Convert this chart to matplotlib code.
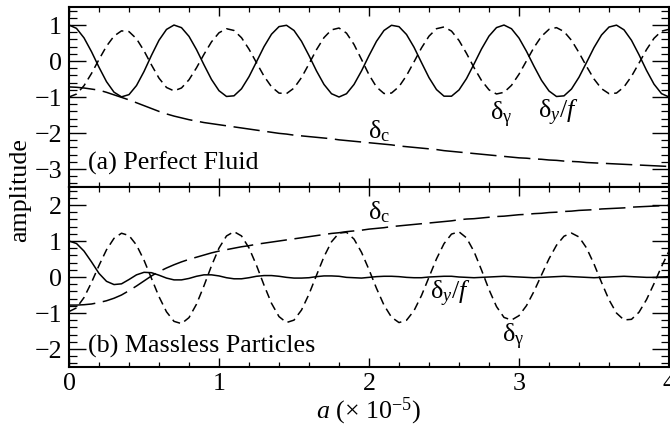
import matplotlib
matplotlib.use('Agg')
import matplotlib.pyplot as plt
from matplotlib.ticker import MultipleLocator

plt.rcParams['font.family'] = ['Liberation Serif', 'DejaVu Serif']
plt.rcParams['mathtext.fontset'] = 'custom'
plt.rcParams['mathtext.rm'] = 'Liberation Serif'
plt.rcParams['mathtext.it'] = 'Liberation Serif:italic'
plt.rcParams['mathtext.bf'] = 'Liberation Serif:bold'
plt.rcParams['lines.scale_dashes'] = False

# ---------------- data ----------------
a_grid = [0.00, 0.05, 0.10, 0.15, 0.20, 0.25, 0.30, 0.35, 0.40, 0.45,
          0.50, 0.55, 0.60, 0.65, 0.70, 0.75, 0.80, 0.85, 0.90, 0.95,
          1.00, 1.05, 1.10, 1.15, 1.20, 1.25, 1.30, 1.35, 1.40, 1.45,
          1.50, 1.55, 1.60, 1.65, 1.70, 1.75, 1.80, 1.85, 1.90, 1.95,
          2.00, 2.05, 2.10, 2.15, 2.20, 2.25, 2.30, 2.35, 2.40, 2.45,
          2.50, 2.55, 2.60, 2.65, 2.70, 2.75, 2.80, 2.85, 2.90, 2.95,
          3.00, 3.05, 3.10, 3.15, 3.20, 3.25, 3.30, 3.35, 3.40, 3.45,
          3.50, 3.55, 3.60, 3.65, 3.70, 3.75, 3.80, 3.85, 3.90, 3.95,
          4.00]

# (a) Perfect fluid
fluid_dy_f = [1.0, .906, .643, .259, -.174, -.574, -.866, -.996,
              -.934, -.682, -.292, .159, .577, .877, .999,
              .926, .684, .317, -.107, -.513, -.825, -.985,
              -.967, -.772, -.436, -.022, .398, .744, .955,
              .992, .848, .548, .150, -.276, -.651, -.909, -1.0,
              -.909, -.652, -.276, .150, .548, .848, .992,
              .954, .737, .383, -.044, -.462, -.794, -.977,
              -.978, -.804, -.489, -.085, .333, .692, .928,
              .999, .896, .637, .268, -.146, -.536, -.833, -.986,
              -.968, -.778, -.450, -.043, .373, .722, .943,
              .996, .866, .574, .174, -.259, -.643, -.906, -1.0]
fluid_dgamma = [-1.0, -.918, -.686, -.346, .043, .411, .692, .837,
                .816, .618, .284, -.110, -.477, -.736, -.830,
                -.749, -.521, -.189, .186, .532, .784, .897,
                .848, .647, .329, -.048, -.420, -.717, -.891,
                -.906, -.753, -.460, -.080, .315, .650, .865,
                .916, .774, .460, .044, -.382, -.723, -.903,
                -.890, -.712, -.406, -.025, .364, .690, .897,
                .946, .831, .570, .212, -.183, -.540, -.801, -.916,
                -.870, -.676, -.367, .005, .377, .686, .880,
                .927, .818, .574, .232, -.148, -.500, -.769, -.907,
                -.891, -.720, -.425, -.059, .316, .630, .829, .880]
fluid_dc = [-.72, -.73, -.75, -.78, -.81, -.87, -.94, -1.01, -1.08, -1.16,
            -1.24, -1.32, -1.40, -1.47, -1.53, -1.58, -1.63, -1.67, -1.71, -1.74,
            -1.77, -1.80, -1.83, -1.86, -1.89, -1.92, -1.95, -1.98, -2.01, -2.03,
            -2.06, -2.08, -2.10, -2.12, -2.14, -2.16, -2.19, -2.21, -2.23, -2.25,
            -2.27, -2.29, -2.31, -2.33, -2.36, -2.38, -2.40, -2.42, -2.44, -2.46,
            -2.49, -2.51, -2.53, -2.55, -2.57, -2.59, -2.61, -2.63, -2.65, -2.67,
            -2.69, -2.70, -2.72, -2.73, -2.75, -2.76, -2.78, -2.79, -2.80, -2.82,
            -2.83, -2.84, -2.85, -2.86, -2.87, -2.88, -2.89, -2.90, -2.91, -2.92,
            -2.93]

# (b) Massless particles
free_dy_f = [1.00, .93, .72, .42, .10, -.12, -.21, -.19, -.07, .06,
             .13, .12, .05, -.03, -.08, -.08, -.04, .02, .06, .06,
             .03, -.02, -.05, -.05, -.02, .02, .04, .04, .02, -.01,
             -.03, -.03, -.02, .01, .03, .03, .02, -.01, -.02, -.03,
             -.01, .01, .02, .02, .01, -.01, -.02, -.02, .00, .01,
             .02, .02, .00, -.01, -.02, -.01, .00, .01, .02, .01,
             .00, -.01, -.02, -.01, .00, .01, .02, .01, .00, -.01,
             -.02, -.01, .00, .01, .02, .01, .00, -.01, -.01, .00,
             .01]
free_dgamma = [-.96, -.858, -.571, -.152, .320, .756, 1.074, 1.216,
               1.152, .887, .467, -.040, -.547, -.967, -1.232,
               -1.295, -1.128, -.755, -.243, .312, .803, 1.140,
               1.260, 1.141, .808, .323, -.225, -.731, -1.100, -1.265,
               -1.198, -.918, -.476, .048, .564, .978, 1.220,
               1.242, 1.054, .686, .204, -.315, -.782, -1.117, -1.266,
               -1.202, -.936, -.514, -.005, .504, .926, 1.192,
               1.255, 1.087, .708, .195, -.350, -.821, -1.123,
               -1.196, -1.074, -.795, -.399, .056, .505, .882, 1.133,
               1.220, 1.112, .808, .361, -.149, -.633, -1.002, -1.193,
               -1.176, -.978, -.629, -.185, .288, .719]
free_dc = [-.78, -.78, -.77, -.75, -.71, -.66, -.59, -.50, -.38, -.25,
           -.11, .03, .15, .25, .34, .42, .49, .55, .61, .67,
           .72, .76, .80, .84, .87, .91, .94, .97, 1.00, 1.03,
           1.06, 1.09, 1.12, 1.15, 1.18, 1.21, 1.23, 1.26, 1.28, 1.30,
           1.33, 1.35, 1.37, 1.40, 1.42, 1.44, 1.46, 1.48, 1.50, 1.52,
           1.54, 1.56, 1.59, 1.61, 1.62, 1.64, 1.66, 1.68, 1.69, 1.71,
           1.73, 1.74, 1.76, 1.77, 1.79, 1.80, 1.82, 1.83, 1.85, 1.86,
           1.87, 1.89, 1.90, 1.91, 1.92, 1.94, 1.95, 1.96, 1.97, 1.98,
           1.99]

x_ticks = [0, 1, 2, 3, 4]
yticks_a = [-3, -2, -1, 0, 1]
yticks_b = [-2, -1, 0, 1, 2]

# ---------------- figure ----------------
FS = 18.7
fig = plt.figure(figsize=(6.7, 4.26), dpi=100)
ax1 = fig.add_axes([69/670, 1-187/426, 600/670, 180/426])
ax2 = fig.add_axes([69/670, 1-367/426, 600/670, 180/426])

SHORT = (6.0, 3.6)
LONG = (19.0, 5.5)
LW = 1.1

for ax, s, d, c in [(ax1, fluid_dy_f, fluid_dgamma, fluid_dc),
                    (ax2, free_dy_f, free_dgamma, free_dc)]:
    ax.plot(a_grid, s, color='black', lw=LW)
    ax.plot(a_grid, d, color='black', lw=LW, dashes=SHORT)
    ax.plot(a_grid, c, color='black', lw=LW, dashes=LONG)
    ax.set_xlim(0, 4)
    ax.set_xticks(x_ticks)
    ax.xaxis.set_minor_locator(MultipleLocator(0.2))
    ax.yaxis.set_minor_locator(MultipleLocator(0.2))
    for sp in ax.spines.values():
        sp.set_linewidth(1.5)
    ax.tick_params(axis='x', which='major', direction='in', length=6.5, width=1.0,
                   top=True, bottom=True, labelsize=FS, pad=4)
    ax.tick_params(axis='x', which='minor', direction='in', length=3.6, width=0.9,
                   top=True, bottom=True)
    ax.tick_params(axis='y', which='major', direction='in', length=12, width=1.0,
                   left=True, right=True, labelsize=FS, pad=5)
    ax.tick_params(axis='y', which='minor', direction='in', length=5.8, width=0.9,
                   left=True, right=True)

ax1.set_ylim(-3.5, 1.5)
ax1.set_yticks(yticks_a)
ax1.tick_params(axis='x', labelbottom=False)
ax2.set_ylim(-2.5, 2.5)
ax2.set_yticks(yticks_b)
ax2.set_xticklabels([str(v) for v in x_ticks])

ax2.set_xlabel(r'$\mathit{a}$ (× 10$^{\mathrm{−5}}$)', fontsize=FS, labelpad=0.5)
fig.text(20/670, 1-190/426, 'amplitude', rotation=90, ha='center', va='center', fontsize=FS)

# panel titles
ax1.text(0.125, -2.84, '(a) Perfect Fluid', ha='left', va='center', fontsize=FS)
ax2.text(0.125, -1.94, '(b) Massless Particles', ha='left', va='center', fontsize=FS)

# curve labels
ax1.text(2.81, -1.5, r'δ$_{\mathrm{γ}}$', ha='left', va='center', fontsize=FS)
ax1.text(3.13, -1.45, r'δ$_{\mathit{y}}$/$\mathit{f}$', ha='left', va='center', fontsize=FS)
ax1.text(1.99, -1.94, r'δ$_{\mathrm{c}}$', ha='left', va='center', fontsize=FS)
ax2.text(1.99, 1.80, r'δ$_{\mathrm{c}}$', ha='left', va='center', fontsize=FS)
ax2.text(2.41, -0.47, r'δ$_{\mathit{y}}$/$\mathit{f}$', ha='left', va='center', fontsize=FS)
ax2.text(2.89, -1.67, r'δ$_{\mathrm{γ}}$', ha='left', va='center', fontsize=FS)

fig.savefig('out.png', dpi=100)
